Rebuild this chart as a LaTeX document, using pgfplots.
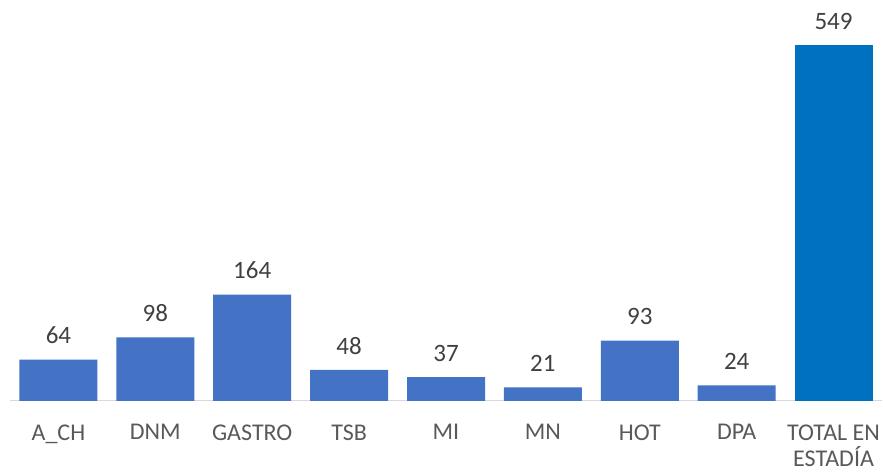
\documentclass[border=0pt]{standalone}
\usepackage{fontspec}
\setmainfont{Carlito}
\usepackage{pgfplots}
\pgfplotsset{compat=1.18}
\definecolor{barblue}{HTML}{4472C4}
\definecolor{totblue}{HTML}{0070C0}
\definecolor{lbl}{HTML}{404040}
\definecolor{tck}{HTML}{595959}
\definecolor{axgray}{HTML}{D9D9D9}
\begin{document}
\begin{tikzpicture}
\begin{axis}[
  scale only axis,
  width=872pt, height=391pt,
  xmin=-0.5, xmax=8.5,
  ymin=0, ymax=603,
  axis x line*=bottom,
  axis y line=none,
  x axis line style={draw=axgray, line width=1pt},
  xtick={0,1,2,3,4,5,6,7,8},
  xticklabels={A\_CH,DNM,GASTRO,TSB,MI,MN,HOT,DPA,{TOTAL EN\\ESTADÍA}},
  xticklabel style={align=center, font=\fontsize{24}{26}\selectfont, text=tck, yshift=-20pt},
  major tick length=0pt,
  ybar, bar width=78pt, bar shift=0pt,
  nodes near coords,
  every node near coord/.append style={font=\fontsize{25}{28}\selectfont, text=lbl, yshift=12pt},
  /pgf/number format/assume math mode=true,
  clip=false,
]
\addplot[fill=barblue, draw=none] coordinates {(0,64) (1,98) (2,164) (3,48) (4,37) (5,21) (6,93) (7,24)};
\addplot[fill=totblue, draw=none] coordinates {(8,549)};
\end{axis}
\pgfresetboundingbox
\path ([xshift=-10pt,yshift=-72pt]current axis.south west) rectangle ([xshift=1pt,yshift=10pt]current axis.north east);
\end{tikzpicture}
\end{document}
